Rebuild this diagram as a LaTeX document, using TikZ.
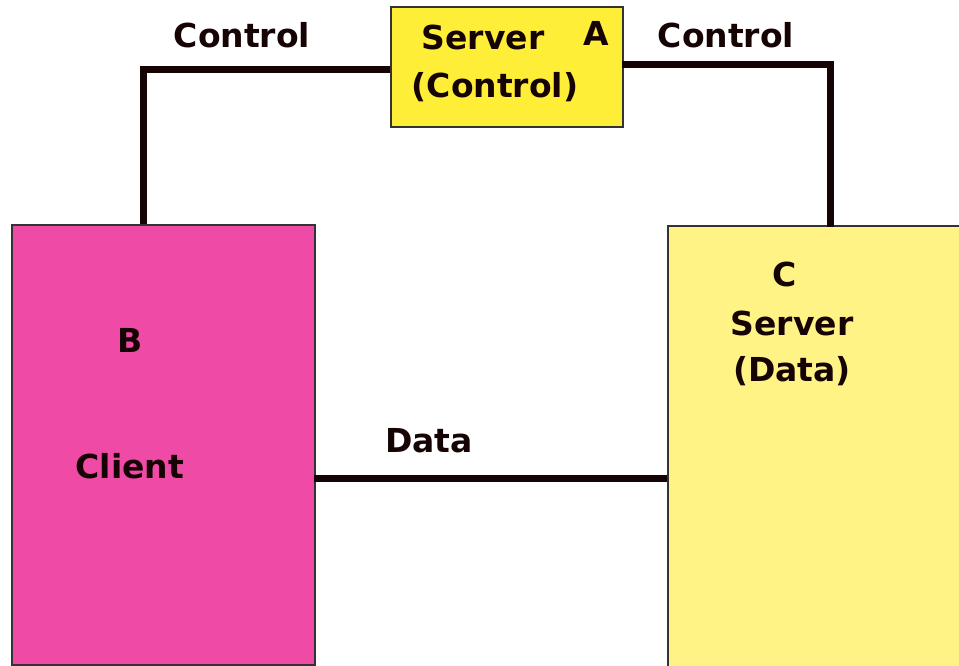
\documentclass[tikz,border=0pt]{standalone}
\usepackage{fontspec}
\setmainfont{DejaVu Sans}
\begin{document}
\begin{tikzpicture}[x=1pt,y=-1pt,
  boxline/.style={draw=black!80, line width=1.5pt},
  wire/.style={draw=wirecol, line width=7pt},
  lbl/.style={text=wirecol, font=\fontsize{33}{40}\selectfont\bfseries, inner sep=0pt, align=center}]
\definecolor{wirecol}{RGB}{22,4,4}
\definecolor{ctrlfill}{RGB}{255,238,56}
\definecolor{datafill}{RGB}{255,243,133}
\definecolor{clientfill}{RGB}{239,75,166}
\useasboundingbox (0,0) rectangle (959,665);
\clip (0,0) rectangle (959,665);
% boxes
\node[boxline, fill=ctrlfill, minimum width=232pt, minimum height=120pt, anchor=north west, inner sep=0pt] (A) at (390,6) {};
\node[boxline, fill=clientfill, minimum width=303pt, minimum height=440pt, anchor=north west, inner sep=0pt] (B) at (11,224) {};
\node[boxline, fill=datafill, minimum width=320pt, minimum height=460pt, anchor=north west, inner sep=0pt] (C) at (667,225) {};
% connection points
\coordinate (aL) at (390,69);
\coordinate (aR) at (622,64);
\coordinate (bT) at (143,224);
\coordinate (cT) at (830,227);
\coordinate (bR) at (314,478);
\coordinate (cL) at (667,478);
% wires
\draw[wire] (aL) -| (bT);
\draw[wire] (aR) -| (cT);
\draw[wire] (bR) -- (cL);
% labels
\node[lbl] (l1) at (242,35) {Control};
\node[lbl] (l2) at (726,35) {Control};
\node[lbl] (a1) at (483,37) {Server};
\node[lbl] (a2) at (596,33) {A};
\node[lbl] (a3) at (495,87) {(Control)};
\node[lbl] (b1) at (130,340) {B};
\node[lbl] (b2) at (130,466) {Client};
\node[lbl] (c1) at (785,274) {C};
\node[lbl] (c2) at (792,323) {Server};
\node[lbl] (c3) at (792,371) {(Data)};
\node[lbl] (d1) at (429,441) {Data};
\end{tikzpicture}
\end{document}
